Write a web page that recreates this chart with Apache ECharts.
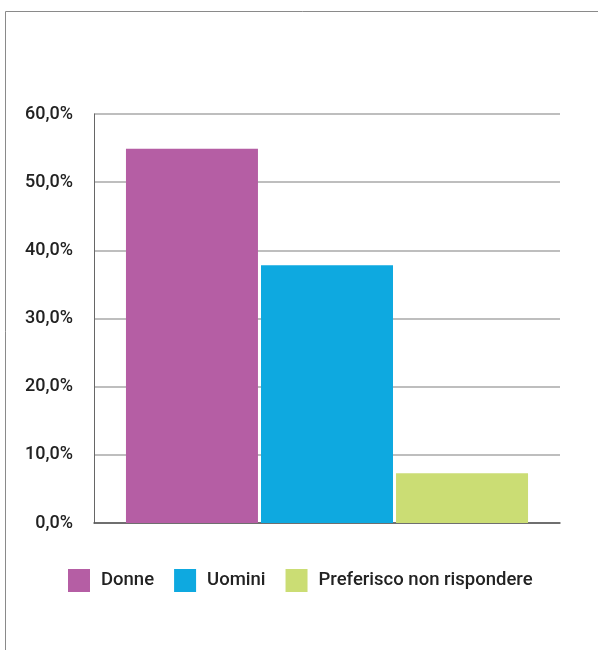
<!DOCTYPE html>
<html>
<head>
<meta charset="utf-8">
<script src="https://cdn.jsdelivr.net/npm/echarts@6/dist/echarts.min.js"></script>
<style>
  html, body { margin: 0; padding: 0; background: #fff; }
  #chart { width: 598px; height: 650px; }
</style>
</head>
<body>
<div id="chart"></div>
<script>
// dati
const categories = ['Risposte'];
const seriesNames = ['Donne', 'Uomini', 'Preferisco non rispondere'];
const donne = [54.9];
const uomini = [37.8];
const preferisco = [7.3];
const yTicks = [0, 10, 20, 30, 40, 50, 60];

const colors = ['#B55EA4', '#0EA9E0', '#CBDD74'];
const fontFamily = 'Roboto, "Liberation Sans", sans-serif';

const chart = echarts.init(document.getElementById('chart'));

const option = {
  animation: false,
  color: colors,
  graphic: [
    {
      type: 'rect',
      shape: { x: 5.5, y: 11.5, width: 700, height: 700 },
      style: { fill: 'none', stroke: '#8a8a8a', lineWidth: 1 }
    }
  ],
  grid: { left: 94, top: 114, right: 38, bottom: 127 },
  legend: {
    left: 68,
    top: 569,
    padding: 0,
    itemWidth: 22,
    itemHeight: 23,
    itemGap: 20,
    icon: 'rect',
    data: seriesNames,
    textStyle: {
      fontFamily: fontFamily,
      fontSize: 18.5,
      fontWeight: 500,
      color: '#222',
      padding: [0, 0, 0, 6]
    }
  },
  xAxis: {
    type: 'category',
    data: categories,
    axisLine: { lineStyle: { color: '#555', width: 1.5 } },
    axisTick: { show: false },
    axisLabel: { show: false }
  },
  yAxis: {
    type: 'value',
    min: yTicks[0],
    max: yTicks[yTicks.length - 1],
    interval: 10,
    axisLine: { show: true, lineStyle: { color: '#666' } },
    axisTick: { show: false },
    splitLine: { lineStyle: { color: '#a8a8a8', width: 1.5 } },
    axisLabel: {
      margin: 21,
      fontFamily: fontFamily,
      fontSize: 18,
      fontWeight: 500,
      color: '#222',
      formatter: v => v.toFixed(1).replace('.', ',') + '%'
    }
  },
  series: [
    { name: seriesNames[0], type: 'bar', data: donne, barWidth: 132, barGap: '2.3%' },
    { name: seriesNames[1], type: 'bar', data: uomini, barWidth: 132, barGap: '2.3%' },
    { name: seriesNames[2], type: 'bar', data: preferisco, barWidth: 132, barGap: '2.3%' }
  ]
};

chart.setOption(option);
window.onresize = function () {
  chart.resize();
};
</script>
</body>
</html>
